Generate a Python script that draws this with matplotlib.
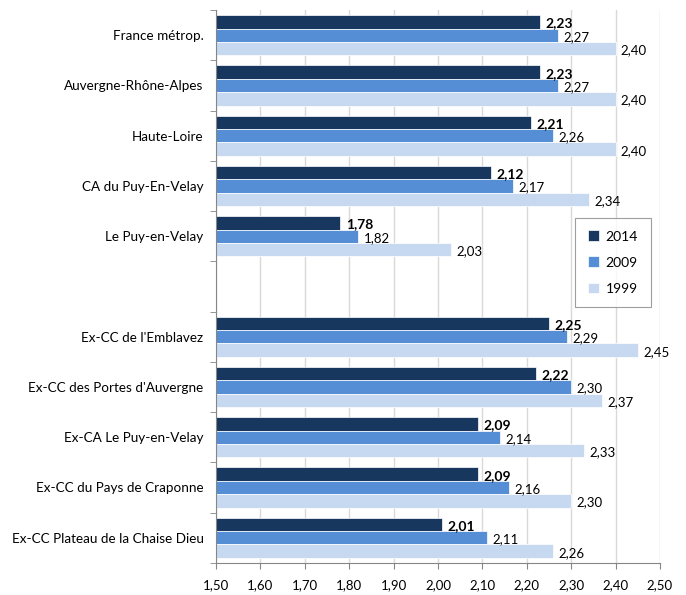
import numpy as np
import matplotlib.pyplot as plt
from matplotlib.ticker import MultipleLocator, FuncFormatter

plt.rcParams['font.family'] = ['Lato', 'DejaVu Sans']

categories = ["France métrop.", "Auvergne-Rhône-Alpes", "Haute-Loire",
              "CA du Puy-En-Velay", "Le Puy-en-Velay", "",
              "Ex-CC de l'Emblavez", "Ex-CC des Portes d'Auvergne",
              "Ex-CA Le Puy-en-Velay", "Ex-CC du Pays de Craponne",
              "Ex-CC Plateau de la Chaise Dieu"]
v2014 = [2.23, 2.23, 2.21, 2.12, 1.78, None, 2.25, 2.22, 2.09, 2.09, 2.01]
v2009 = [2.27, 2.27, 2.26, 2.17, 1.82, None, 2.29, 2.30, 2.14, 2.16, 2.11]
v1999 = [2.40, 2.40, 2.40, 2.34, 2.03, None, 2.45, 2.37, 2.33, 2.30, 2.26]
years = ["2014", "2009", "1999"]
colors = ["#17375E", "#558ED5", "#C6D9F1"]

fig = plt.figure(figsize=(6.86, 5.95), dpi=100)
ax = fig.add_axes([0.315, 0.054, 0.647, 0.929])

h = 0.267
y = np.arange(len(categories))
for k, (vals, col, yr) in enumerate(zip([v2014, v2009, v1999], colors, years)):
    idx = [i for i, v in enumerate(vals) if v is not None]
    vv = [vals[i] for i in idx]
    pos = y[idx] + (k - 1) * h
    ax.barh(pos, [v - 1.5 for v in vv], left=1.5, height=h, color=col,
            edgecolor='white', linewidth=0.5, label=yr, zorder=2)
    for p, v in zip(pos, vv):
        ax.text(v + 0.012, p + 0.03, f"{v:.2f}".replace('.', ','),
                va='center', ha='left', fontsize=10 if k == 0 else 9.5,
                fontweight='bold' if k == 0 else 'normal', color='black')

ax.set_xlim(1.5, 2.5)
ax.set_ylim(len(categories) - 0.5, -0.5)
ax.xaxis.set_major_locator(MultipleLocator(0.1))
ax.xaxis.set_major_formatter(FuncFormatter(lambda x, p: f"{x:.2f}".replace('.', ',')))
ax.grid(axis='x', color='#D9D9D9', linewidth=1, zorder=0)
ax.set_axisbelow(True)

ax.set_yticks(y)
ax.set_yticklabels(categories, fontsize=9.7)
ax.set_yticks(np.arange(-0.5, len(categories)), minor=True)
ax.tick_params(axis='y', which='major', length=0, pad=9)
ax.tick_params(axis='y', which='minor', length=4, color='#868686')
ax.tick_params(axis='x', length=4, color='#868686', labelsize=9.5, pad=8)

for s in ['top', 'right']:
    ax.spines[s].set_visible(False)
for s in ['left', 'bottom']:
    ax.spines[s].set_color('#868686')

leg = ax.legend(loc='upper left', bbox_to_anchor=(0.809, 0.624), fontsize=10,
                frameon=True, fancybox=False, edgecolor='#868686',
                handlelength=0.8, handleheight=0.8, labelspacing=1.0,
                borderpad=0.9, handletextpad=0.5, borderaxespad=0)
leg.get_frame().set_linewidth(0.8)

fig.savefig('out.png', dpi=100)
